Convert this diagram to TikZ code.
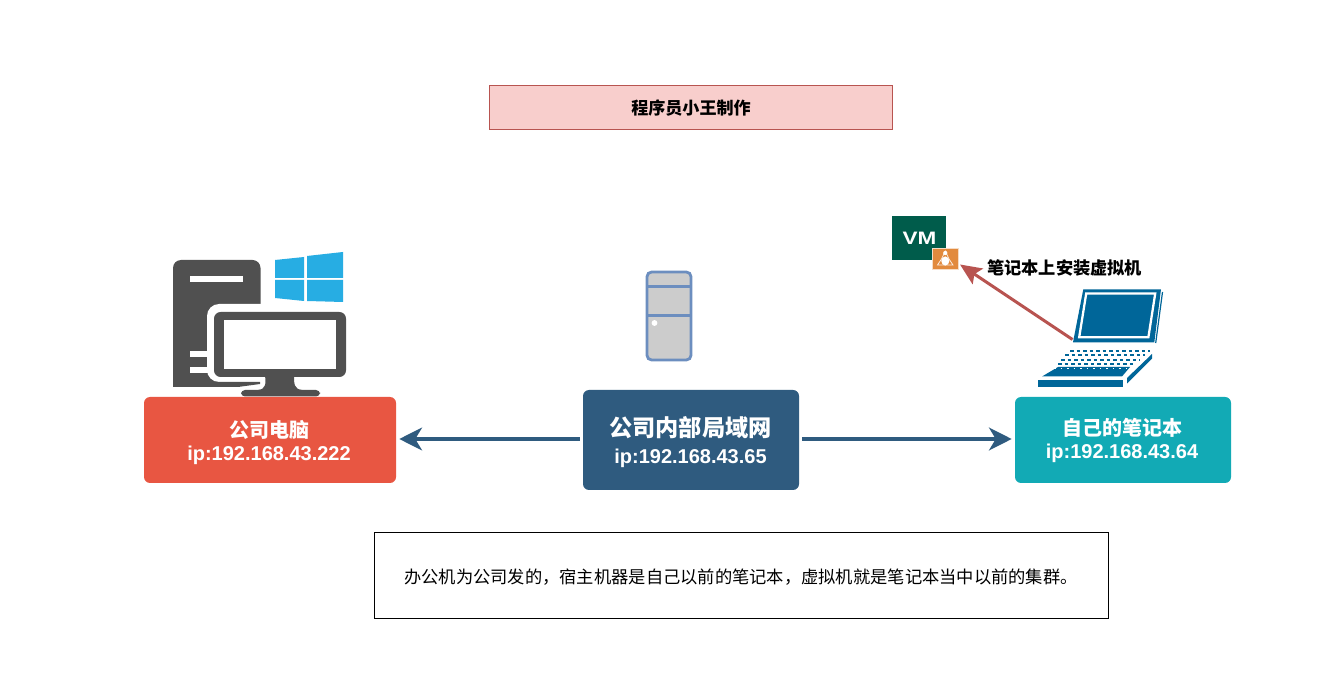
\documentclass[tikz,border=0pt]{standalone}
\usepackage{fontspec}
\setmainfont{Liberation Sans}
\newfontfamily\cjk{Noto Sans CJK SC}
\usetikzlibrary{arrows.meta}
\definecolor{redbox}{HTML}{E85642}
\definecolor{navybox}{HTML}{2F5B7F}
\definecolor{tealbox}{HTML}{12AAB5}
\definecolor{titlefill}{HTML}{F8CECC}
\definecolor{titleline}{HTML}{B85450}
\definecolor{icondark}{HTML}{505050}
\definecolor{winblue}{HTML}{27ADE3}
\definecolor{vmgreen}{HTML}{005C4B}
\definecolor{tuxorange}{HTML}{E28A3D}
\definecolor{lapblue}{HTML}{006699}
\definecolor{srvline}{HTML}{6C8EBF}
\definecolor{srvfill}{HTML}{CCCCCC}
\tikzset{
  colorbox/.style={rounded corners=4.5pt,text=white,align=center,inner sep=0pt,font=\bfseries},
  lanarrow/.style={draw=navybox,line width=3pt,-{Stealth[length=17pt,width=17pt,inset=5pt]}},
  vmarrow/.style={draw=titleline,line width=2.2pt,-{Stealth[length=16pt,width=14pt,inset=3pt]}},
  plainlabel/.style={inner sep=0pt,font=\bfseries},
  keyrow/.style={lapblue,line width=1.25pt,dash pattern=on 2.7pt off 2.2pt},
}
\begin{document}
\begin{tikzpicture}[x=0.75pt,y=-0.75pt]
\useasboundingbox (0,0) rectangle (1325,673);
\fill[white] (0,0) rectangle (1325,673);

% desktop computer (under the boxes)
\fill[icondark,rounded corners=6pt] (173,400) -- (173,260) -- (260.5,260) -- (260.5,400) -- cycle;
\fill[white] (170,387) rectangle (264,402);
\fill[white] (190,276) rectangle (243,282);
\fill[white] (190,351) rectangle (215,357);
\fill[white] (190,367) rectangle (215,373);
\fill[white] (260.5,300) rectangle (270,392);
\fill[white,rounded corners=9pt] (207,304) rectangle (354,382);
\fill[white] (238,380) rectangle (320,397);
\fill[icondark] (173,382) -- (260,382) -- (260,384) -- (238,387) -- (173,387) -- cycle;
\fill[icondark,rounded corners=5pt] (214,312) rectangle (346,377);
\fill[white] (224,320) rectangle (336,369);
\fill[icondark] (265,375) .. controls (266,384) and (266,389) .. (258,390) -- (302,390) .. controls (294,389) and (294,384) .. (294,375) -- cycle;
\fill[icondark,rounded corners=3pt] (241,390) rectangle (320,396.5);

% title and note
\node[draw=titleline,fill=titlefill,line width=0.75pt,minimum width=302.25pt,minimum height=33pt,inner sep=0pt,font=\cjk\bfseries\fontsize{12.8}{15}\selectfont] (title) at (691,108) {程序员小王制作};
\node[draw=black,line width=0.9pt,minimum width=551pt,minimum height=65pt,inner sep=0pt] (note) at (741.5,575.5) {};
\node[anchor=west,inner sep=0pt,font=\cjk\fontsize{12.95}{15}\selectfont] (notetext) at (404,577) {办公机为公司发的，宿主机器是自己以前的笔记本，虚拟机就是笔记本当中以前的集群。};

% boxes
\node[colorbox,fill=redbox,minimum width=189pt,minimum height=64.5pt] (pc) at (270,440) {};
\node[colorbox,fill=navybox,minimum width=162pt,minimum height=75pt] (lan) at (691,440) {};
\node[colorbox,fill=tealbox,minimum width=162pt,minimum height=64.5pt] (own) at (1123,440) {};
\node[plainlabel,text=white,font=\cjk\bfseries\fontsize{15}{18}\selectfont] (pct) at (269,430) {公司电脑};
\node[plainlabel,text=white,font=\bfseries\fontsize{15}{18}\selectfont] (pci) at (269,455) {ip:192.168.43.222};
\node[plainlabel,text=white,font=\cjk\bfseries\fontsize{17.4}{20}\selectfont] (lant) at (690.5,428) {公司内部局域网};
\node[plainlabel,text=white,font=\bfseries\fontsize{15}{18}\selectfont] (lani) at (690.5,458) {ip:192.168.43.65};
\node[plainlabel,text=white,font=\cjk\bfseries\fontsize{15}{18}\selectfont] (ownt) at (1122,428) {自己的笔记本};
\node[plainlabel,text=white,font=\bfseries\fontsize{15}{18}\selectfont] (owni) at (1122,453) {ip:192.168.43.64};

% connectors
\draw[lanarrow,shorten <=2.25pt,shorten >=2.25pt] (lan.west |- 0,439) -- (pc.east |- 0,439);
\draw[lanarrow,shorten <=2.25pt,shorten >=2.25pt] (lan.east |- 0,439) -- (own.west |- 0,439);

% windows logo
\fill[winblue] (275,260) -- (304,257) -- (304,278) -- (275,278) -- cycle;
\fill[winblue] (307,256) -- (343,252) -- (343,278) -- (307,278) -- cycle;
\fill[winblue] (275,280) -- (304,280) -- (304,301) -- (275,298) -- cycle;
\fill[winblue] (307,280) -- (343,280) -- (343,302) -- (307,301) -- cycle;

% server
\draw[srvline,fill=srvfill,line width=2.1pt,rounded corners=3.5pt] (647,272) rectangle (691,360);
\draw[srvline,line width=2.1pt] (647,286.5) -- (691,286.5);
\draw[srvline,line width=2.1pt] (647,315.5) -- (691,315.5);
\fill[white] (654.5,323) circle[radius=2.2pt];

% VM icon
\node[fill=vmgreen,minimum width=40.5pt,minimum height=33pt,inner sep=0pt] (vm) at (919,238) {};
\node[inner sep=0pt,text=white,font=\bfseries\fontsize{13.5}{16}\selectfont,xscale=1.25] (vmt) at (919.5,238) {VM};
\node[fill=tuxorange,draw=white!70!tuxorange,line width=0.6pt,minimum width=19.5pt,minimum height=15.5pt,inner sep=0pt] (tux) at (945.3,258.8) {};
\draw[white!85!tuxorange,line width=0.55pt] (945.3,251) -- (949,259) -- (953,265) -- (937.5,265) -- (941.5,259) -- cycle;
\fill[white] (945.3,253) circle[radius=1.6pt];
\fill[white] (945.3,261) ellipse[x radius=3pt,y radius=3.4pt];

% label
\node[plainlabel,anchor=west,text=black,font=\cjk\bfseries\fontsize{12.9}{15}\selectfont] (vmlabel) at (987,268) {笔记本上安装虚拟机};

% laptop
\fill[lapblue] (1083.3,289.3) -- (1161,289.3) -- (1154.3,342.3) -- (1073,342.3) -- cycle;
\draw[white,line width=1.7pt] (1086.2,293.6) -- (1155.2,293.6) -- (1148.4,337.2) -- (1079.2,337.2) -- cycle;
\draw[lapblue,line width=0.9pt] (1162.5,292) -- (1155.7,343);
% keyboard deck
\draw[keyrow] (1070,350.7) -- (1150,350.7);
\draw[keyrow] (1065,355.3) -- (1145,355.3);
\draw[keyrow] (1061,360) -- (1140,360);
\draw[keyrow] (1058,364.3) -- (1135,364.3);
\fill[lapblue] (1058,367) -- (1130,367) -- (1122,376.5) -- (1042,376.5) -- cycle;
\draw[white,line width=1.2pt,dash pattern=on 1.2pt off 3.7pt] (1054,368.5) -- (1130,368.5);
\fill[lapblue] (1037.5,380) rectangle (1123,387);
\fill[lapblue] (1127,378) -- (1152,354) -- (1152,358.5) -- (1127,383.5) -- cycle;

% red connector
\coordinate (laptopend) at (1072.5,339.5);
\coordinate (vmend) at (960,264.5);
\draw[vmarrow] (laptopend) -- (vmend);
\end{tikzpicture}
\end{document}
